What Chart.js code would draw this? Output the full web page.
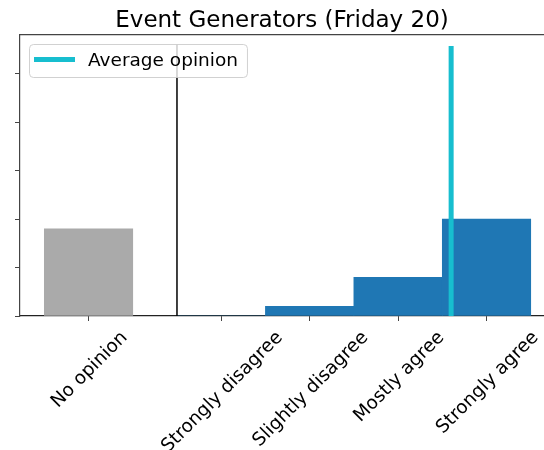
<!DOCTYPE html>
<html>
<head>
<meta charset="utf-8">
<script src="https://cdn.jsdelivr.net/npm/chart.js@4.4.0/dist/chart.umd.min.js"></script>
<style>
  html, body { margin: 0; padding: 0; background: #fff; overflow: hidden; }
</style>
</head>
<body>
<canvas id="chart" width="544" height="450"></canvas>
<script>
// values
const categories = ["No opinion", "Strongly disagree", "Slightly disagree", "Mostly agree", "Strongly agree"];
const positions = [0, 1.5, 2.5, 3.5, 4.5];
const noOpinionCount = [9];
const opinionCounts = [0, 1, 4, 10];
const averageOpinion = 4.1;
const averageLineTop = 27.6;
const separatorX = 1;
const separatorTop = 28;
const yTicks = [0, 5, 10, 15, 20, 25];

Chart.defaults.font.family = "'DejaVu Sans'";
Chart.defaults.color = "#000";

// matplotlib style rotated tick labels (centered under the tick)
const rotatedLabels = {
  id: "rotatedLabels",
  afterDraw(chart) {
    const x = chart.scales.x;
    const ctx = chart.ctx;
    const size = 18.5;
    ctx.save();
    ctx.font = size + "px 'DejaVu Sans'";
    ctx.fillStyle = "#000";
    ctx.textAlign = "center";
    ctx.textBaseline = "alphabetic";
    x.ticks.forEach((t, i) => {
      const label = categories[i];
      const w = ctx.measureText(label).width;
      const side = (w + size * 1.164) / Math.SQRT2;
      const cx = x.getPixelForValue(t.value);
      const cy = x.top + 10 + side / 2;
      ctx.save();
      ctx.translate(cx, cy);
      ctx.rotate(-Math.PI / 4);
      ctx.fillText(label, 0, size * 0.346);
      ctx.restore();
    });
    ctx.restore();
  },
};

// legend box inside the axes, upper left
const insideLegend = {
  id: "insideLegend",
  afterDatasetsDraw(chart) {
    const a = chart.chartArea;
    const ctx = chart.ctx;
    const ds = chart.data.datasets[0];
    ctx.save();
    ctx.font = "18.5px 'DejaVu Sans'";
    const tw = ctx.measureText(ds.label).width;
    const bx = a.left + 9, by = a.top + 9;
    const bw = 59 + tw + 9, bh = 33;
    ctx.beginPath();
    ctx.roundRect(bx + 0.5, by + 0.5, bw, bh, 4);
    ctx.fillStyle = "rgba(255,255,255,0.8)";
    ctx.fill();
    ctx.strokeStyle = "rgba(204,204,204,0.9)";
    ctx.lineWidth = 1;
    ctx.stroke();
    ctx.beginPath();
    ctx.moveTo(bx + 5, by + 15.5);
    ctx.lineTo(bx + 46, by + 15.5);
    ctx.strokeStyle = ds.borderColor;
    ctx.lineWidth = 5;
    ctx.stroke();
    ctx.fillStyle = "#000";
    ctx.textBaseline = "alphabetic";
    ctx.fillText(ds.label, bx + 59, by + 22);
    ctx.restore();
  },
};

const xMin = -0.775, xMax = 5.15;

new Chart(document.getElementById("chart"), {
  type: "bar",
  data: {
    datasets: [
      {
        type: "line",
        label: "Average opinion",
        data: [{ x: averageOpinion, y: 0 }, { x: averageOpinion, y: averageLineTop }],
        borderColor: "#17becf",
        borderWidth: 5,
        borderCapStyle: "square",
        pointRadius: 0,
        clip: 0,
        order: 0,
      },
      {
        type: "line",
        label: "separator",
        data: [{ x: separatorX, y: 0 }, { x: separatorX, y: separatorTop }],
        borderColor: "#000",
        borderWidth: 1.5,
        pointRadius: 0,
        clip: 0,
        order: 0,
      },
      {
        label: "No opinion",
        data: noOpinionCount.map((v, i) => ({ x: positions[i], y: v })),
        backgroundColor: "#aaaaaa",
        grouped: false,
        categoryPercentage: 1,
        barPercentage: 1,
        order: 1,
      },
      {
        label: "Opinions",
        data: opinionCounts.map((v, i) => ({ x: positions[i + 1], y: v })),
        backgroundColor: "#1f77b4",
        grouped: false,
        categoryPercentage: 1,
        barPercentage: 1,
        order: 1,
      },
    ],
  },
  options: {
    responsive: false,
    animation: false,
    layout: { padding: 0 },
    plugins: {
      legend: { display: false },
      tooltip: { enabled: false },
      title: {
        display: true,
        text: "Event Generators (Friday 20)",
        fullSize: false,
        font: { size: 23, weight: "normal" },
        color: "#000",
        padding: { top: 6.9, bottom: 0.5 },
      },
    },
    scales: {
      x: {
        type: "linear",
        min: xMin,
        max: xMax,
        offset: false,
        afterBuildTicks: (s) => { s.ticks = positions.map((v) => ({ value: v })); },
        ticks: { display: false },
        grid: { drawOnChartArea: false, tickLength: 5, tickWidth: 1, tickColor: "#444", offset: false },
        border: { color: "#222", width: 1.2 },
        afterFit: (s) => { s.height = 134; },
      },
      x2: {
        type: "linear",
        position: "top",
        min: xMin,
        max: xMax,
        offset: false,
        ticks: { display: false },
        grid: { drawOnChartArea: false, drawTicks: false },
        border: { color: "#444", width: 1.2 },
        afterFit: (s) => { s.height = 0; },
      },
      y: {
        min: 0,
        max: 29,
        afterBuildTicks: (s) => { s.ticks = yTicks.map((v) => ({ value: v })); },
        ticks: { display: false },
        grid: { drawOnChartArea: false, tickLength: 5, tickWidth: 1, tickColor: "#444" },
        border: { color: "#444", width: 1.2 },
        afterFit: (s) => { s.width = 20; },
      },
    },
  },
  plugins: [insideLegend, rotatedLabels],
});
</script>
</body>
</html>
